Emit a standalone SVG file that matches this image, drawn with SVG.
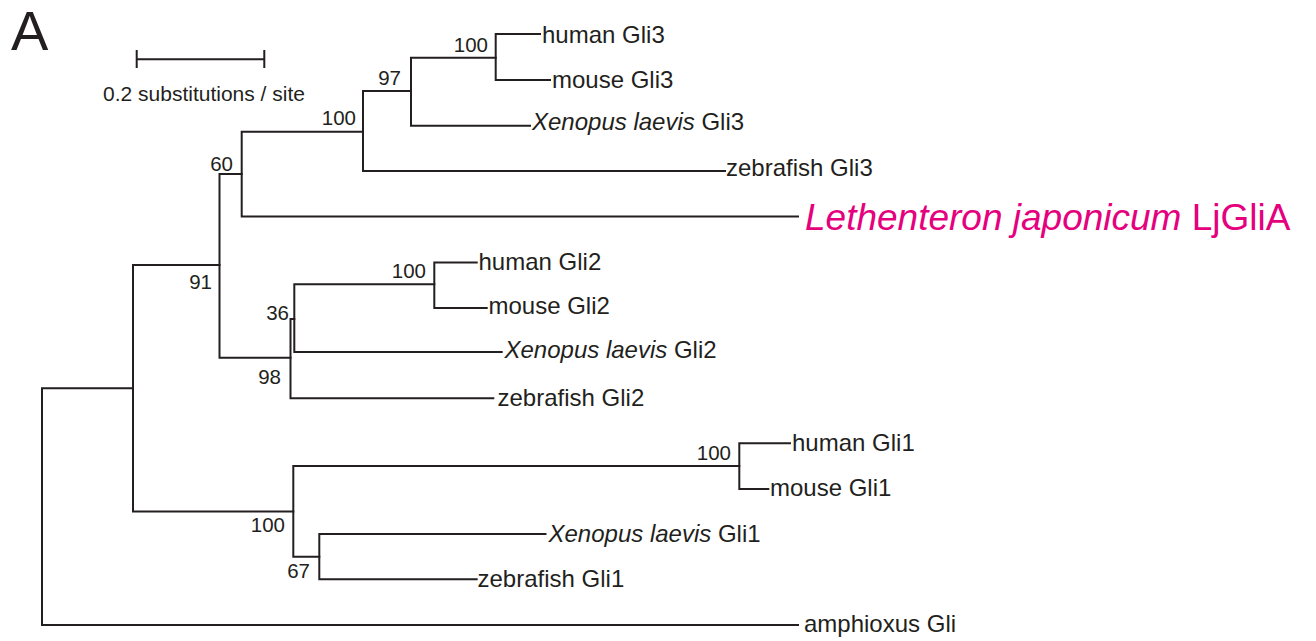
<svg xmlns="http://www.w3.org/2000/svg" width="1316" height="641" viewBox="0 0 1316 641">
<style>
text{font-family:"Liberation Sans",Arial,Helvetica,sans-serif;fill:#231f20}
.lbl{font-size:24px}
.bs{font-size:20.5px;text-anchor:end}
.it{font-style:italic}
.br{fill:none;stroke:#231f20;stroke-width:2;stroke-linecap:square}
.lj{font-size:37px;fill:#e5007e}
</style>
<rect width="1316" height="641" fill="#ffffff"/>
<text x="11" y="50" style="font-size:56px">A</text>
<g id="scalebar">
<path class="br" d="M136.7 59.3H264.3M136.7 51V67M264.3 51V67"/>
<text x="103" y="100.7" style="font-size:21px">0.2 substitutions / site</text>
</g>
<g id="connectors">
<path class="br" d="M42 388.3V625M42 388.3H133M42 625H798"/>
<path class="br" d="M133 265V511.5M133 265H219.5M133 511.5H293.3"/>
<path class="br" d="M219.5 174V357.7M219.5 174H241.7M219.5 357.7H290.5"/>
<path class="br" d="M241.7 131.7V216.5M241.7 131.7H363M241.7 216.5H798"/>
<path class="br" d="M363 91V171M363 91H411M363 171H725"/>
<path class="br" d="M411 57.7V125.7M411 57.7H495.7M411 125.7H530"/>
<path class="br" d="M495.7 34V80M495.7 34H540M495.7 80H550"/>
<path class="br" d="M290.5 319V398.3M290.5 319H294.3M290.5 398.3H493.3"/>
<path class="br" d="M294.3 284.3V352M294.3 284.3H434.3M294.3 352H501.7"/>
<path class="br" d="M434.3 262.5V308M434.3 262.5H476.7M434.3 308H486.7"/>
<path class="br" d="M293.3 466V556.7M293.3 466H739.3M293.3 556.7H319.3"/>
<path class="br" d="M739.3 443.3V489M739.3 443.3H790M739.3 489H768.3"/>
<path class="br" d="M319.3 534V579.3M319.3 534H545.5M319.3 579.3H476.7"/>
</g>
<g id="support">
<text class="bs" x="488" y="51.7">100</text>
<text class="bs" x="401" y="85">97</text>
<text class="bs" x="356" y="125">100</text>
<text class="bs" x="233" y="170.7">60</text>
<text class="bs" x="212" y="289">91</text>
<text class="bs" x="426" y="278.3">100</text>
<text class="bs" x="289" y="320">36</text>
<text class="bs" x="281" y="384">98</text>
<text class="bs" x="285" y="531.5">100</text>
<text class="bs" x="310" y="578.3">67</text>
<text class="bs" x="731" y="460">100</text>
</g>
<g id="human-gli3"><text class="lbl" x="542" y="43.3">human Gli3</text></g>
<g id="mouse-gli3"><text class="lbl" x="552" y="88.3">mouse Gli3</text></g>
<g id="xenopus-gli3"><text class="lbl" x="532" y="130"><tspan class="it">Xenopus laevis</tspan> Gli3</text></g>
<g id="zebrafish-gli3"><text class="lbl" x="726" y="176">zebrafish Gli3</text></g>
<g id="lethenteron-ljglia"><text class="lj" x="805" y="230"><tspan class="it">Lethenteron japonicum</tspan> LjGliA</text></g>
<g id="human-gli2"><text class="lbl" x="478.5" y="270">human Gli2</text></g>
<g id="mouse-gli2"><text class="lbl" x="488.5" y="314">mouse Gli2</text></g>
<g id="xenopus-gli2"><text class="lbl" x="504.5" y="358.3"><tspan class="it">Xenopus laevis</tspan> Gli2</text></g>
<g id="zebrafish-gli2"><text class="lbl" x="497.5" y="405.7">zebrafish Gli2</text></g>
<g id="human-gli1"><text class="lbl" x="792" y="451">human Gli1</text></g>
<g id="mouse-gli1"><text class="lbl" x="770" y="496">mouse Gli1</text></g>
<g id="xenopus-gli1"><text class="lbl" x="548.5" y="542.3"><tspan class="it">Xenopus laevis</tspan> Gli1</text></g>
<g id="zebrafish-gli1"><text class="lbl" x="477.5" y="586.7">zebrafish Gli1</text></g>
<g id="amphioxus-gli"><text class="lbl" x="804" y="632.3">amphioxus Gli</text></g>
</svg>
